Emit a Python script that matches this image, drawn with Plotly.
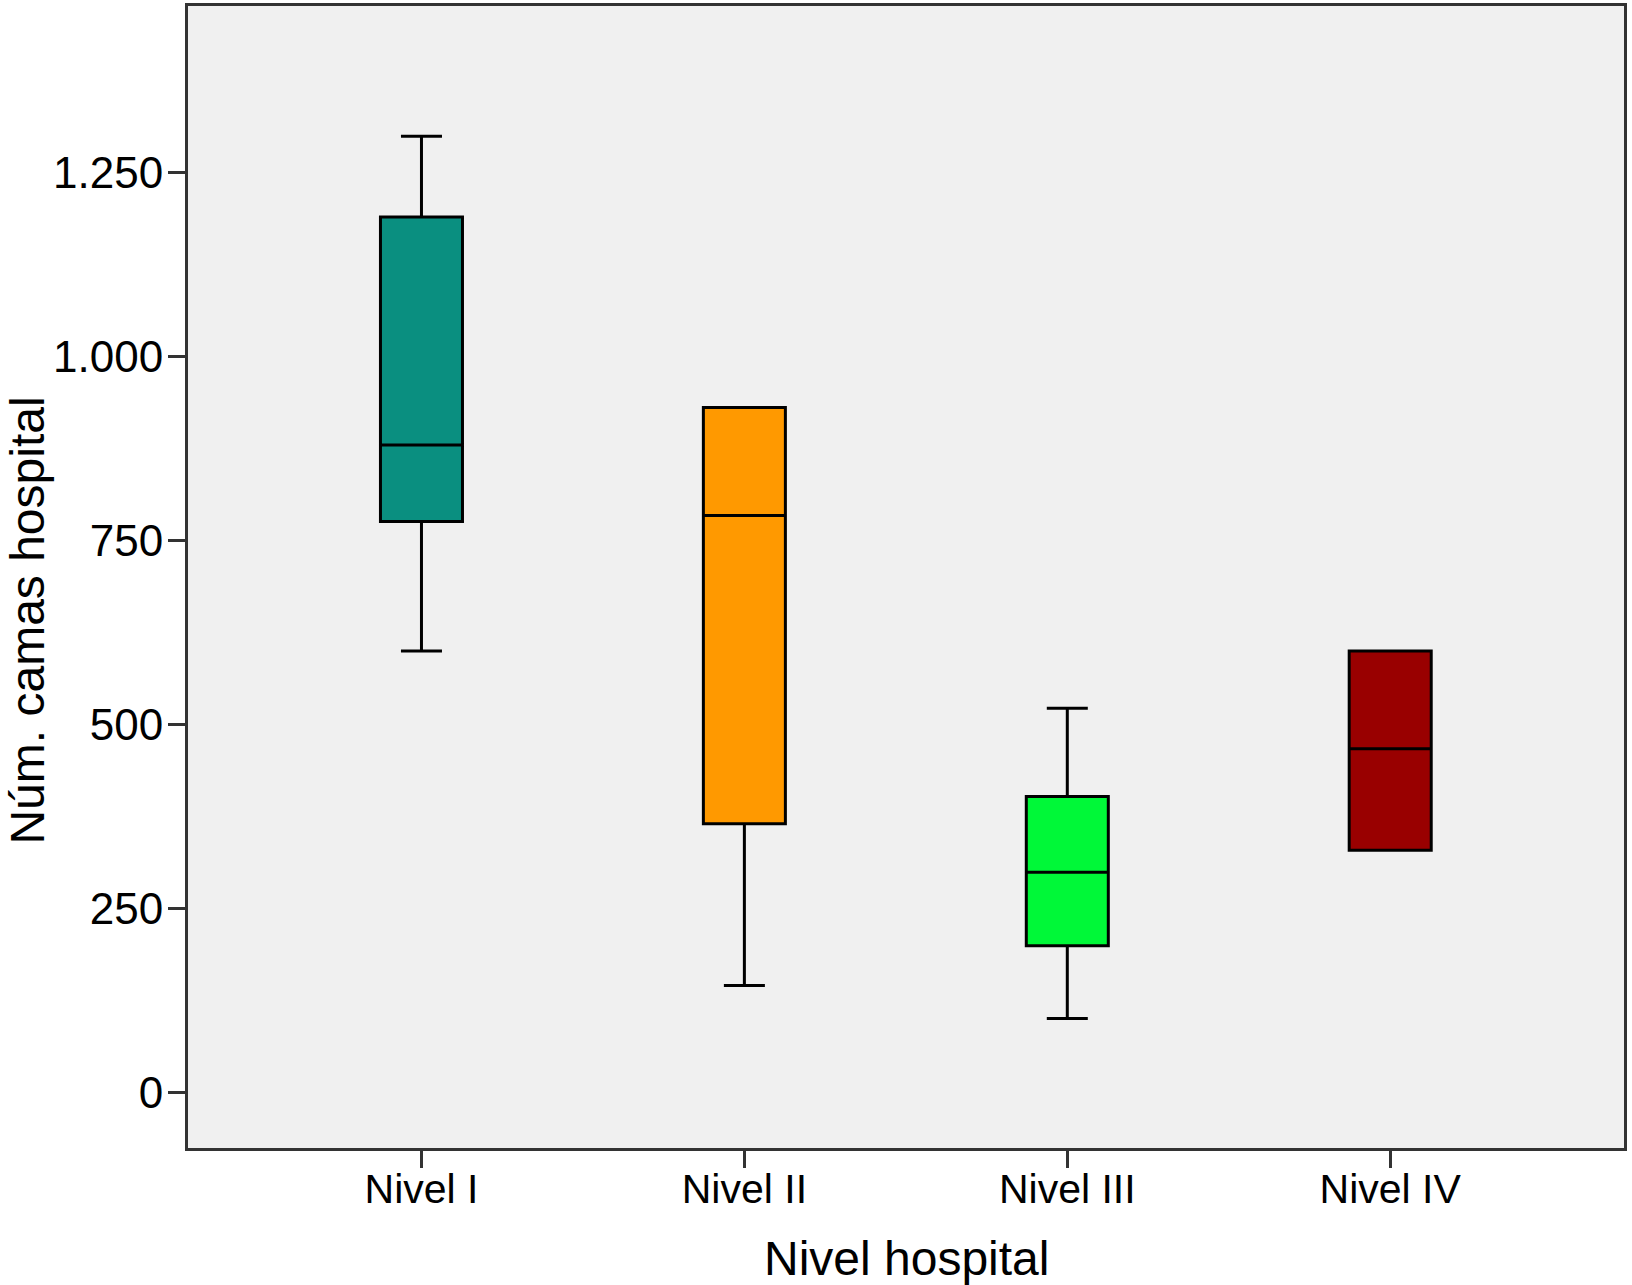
import plotly.graph_objects as go

categories = ["Nivel I", "Nivel II", "Nivel III", "Nivel IV"]
q1 = [776, 365, 199, 329]
median = [880, 784, 299, 467]
q3 = [1190, 931, 402, 600]
lowerfence = [600, 145, 100, 329]
upperfence = [1300, 931, 522, 600]
colors = ["#0A8F80", "#FF9900", "#00F838", "#990000"]

ytickvals = [0, 250, 500, 750, 1000, 1250]
yticktext = ["0", "250", "500", "750", "1.000", "1.250"]

FONT = "Liberation Sans, Arial, Helvetica, sans-serif"

fig = go.Figure()
for i, cat in enumerate(categories):
    fig.add_trace(go.Box(
        x=[cat],
        q1=[q1[i]], median=[median[i]], q3=[q3[i]],
        lowerfence=[lowerfence[i]], upperfence=[upperfence[i]],
        fillcolor=colors[i],
        line=dict(color="#000000", width=3),
        width=0.254,
        whiskerwidth=0.5,
        boxpoints=False,
        showlegend=False,
        hoverinfo="skip",
    ))

fig.update_layout(
    width=1632, height=1285,
    margin=dict(l=188, r=8, t=3, b=137),
    paper_bgcolor="#FFFFFF",
    plot_bgcolor="#F0F0F0",
    font=dict(family=FONT, size=41, color="#000000"),
    showlegend=False,
    xaxis=dict(
        type="category",
        categoryorder="array", categoryarray=categories,
        range=[-0.723, 3.724],
        showgrid=False, zeroline=False,
        showline=True, linecolor="#333333", linewidth=3, mirror=True,
        ticks="outside", ticklen=17, tickwidth=3, tickcolor="#333333",
        tickfont=dict(family=FONT, size=41, color="#000000"),
        ticklabelstandoff=-14,
        fixedrange=True,
    ),
    yaxis=dict(
        range=[-76, 1477],
        tickvals=ytickvals, ticktext=yticktext,
        showgrid=False, zeroline=False,
        showline=True, linecolor="#333333", linewidth=3, mirror=True,
        ticks="outside", ticklen=17, tickwidth=3, tickcolor="#333333",
        tickfont=dict(family=FONT, size=44, color="#000000"),
        ticklabelstandoff=-4,
        fixedrange=True,
    ),
    annotations=[
        dict(text="Nivel hospital", xref="paper", yref="paper",
             x=0.5, y=-0.097, xanchor="center", yanchor="middle",
             showarrow=False, font=dict(family=FONT, size=48, color="#000000")),
        dict(text="Núm. camas hospital", xref="paper", yref="paper",
             x=-0.112, y=0.462, xanchor="center", yanchor="middle", textangle=-90,
             showarrow=False, font=dict(family=FONT, size=48, color="#000000")),
    ],
)

fig.write_html("out.html", config={"displayModeBar": False},
               post_script="document.body.style.margin='0px';")
